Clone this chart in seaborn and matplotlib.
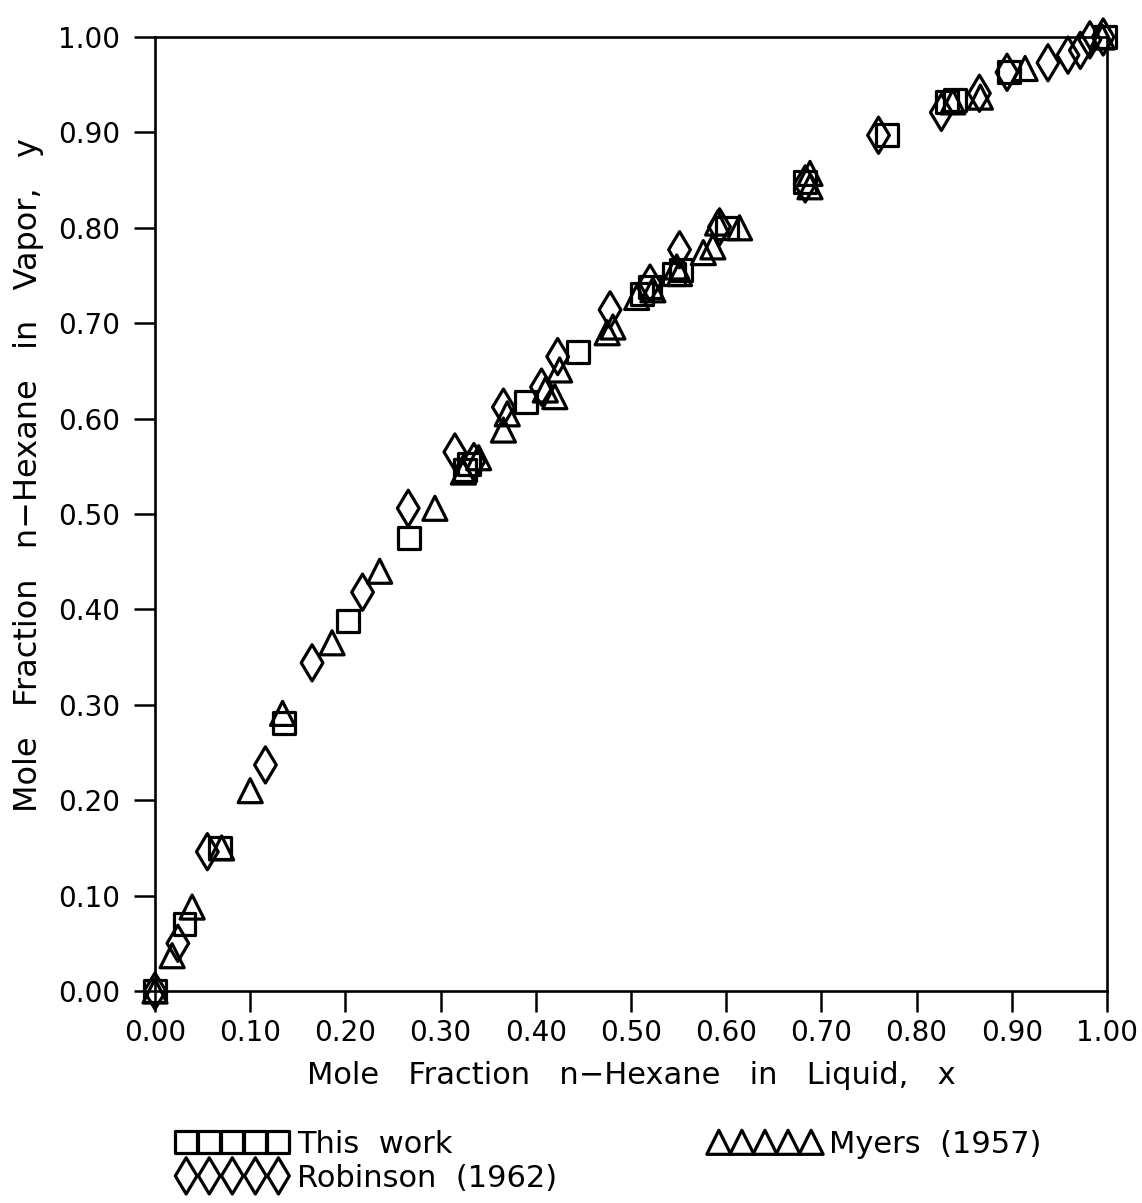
import matplotlib
matplotlib.use("Agg")
import matplotlib.pyplot as plt
import seaborn as sns
import pandas as pd

# ---- data ----
this_work_x = [0.0, 0.031, 0.068, 0.136, 0.203, 0.267, 0.326, 0.330, 0.390, 0.444,
               0.512, 0.520, 0.545, 0.553, 0.601, 0.683, 0.769, 0.832, 0.840, 0.897, 0.998]
this_work_y = [0.0, 0.070, 0.150, 0.281, 0.388, 0.475, 0.546, 0.552, 0.617, 0.670,
               0.731, 0.738, 0.752, 0.756, 0.800, 0.848, 0.897, 0.932, 0.934, 0.963, 1.0]

robinson_x = [0.0, 0.024, 0.055, 0.116, 0.165, 0.218, 0.266, 0.315, 0.335, 0.366,
              0.406, 0.423, 0.478, 0.520, 0.551, 0.593, 0.683, 0.760, 0.826, 0.866,
              0.895, 0.938, 0.959, 0.972, 0.982, 0.996]
robinson_y = [0.0, 0.050, 0.146, 0.237, 0.344, 0.418, 0.506, 0.565, 0.555, 0.612,
              0.633, 0.665, 0.714, 0.742, 0.777, 0.801, 0.846, 0.897, 0.921, 0.941,
              0.963, 0.973, 0.981, 0.986, 0.997, 1.0]

myers_x = [0.0, 0.018, 0.039, 0.070, 0.100, 0.134, 0.186, 0.236, 0.294, 0.324,
           0.340, 0.366, 0.370, 0.410, 0.420, 0.425, 0.475, 0.481, 0.506, 0.523,
           0.548, 0.551, 0.576, 0.586, 0.591, 0.614, 0.688, 0.688, 0.838, 0.867,
           0.914, 0.995]
myers_y = [0.0, 0.037, 0.088, 0.150, 0.210, 0.291, 0.365, 0.440, 0.506, 0.544,
           0.559, 0.588, 0.605, 0.630, 0.623, 0.651, 0.690, 0.696, 0.727, 0.735,
           0.759, 0.752, 0.774, 0.780, 0.805, 0.800, 0.857, 0.843, 0.932, 0.937,
           0.967, 1.0]

labels = ["This  work", "Robinson  (1962)", "Myers  (1957)"]
tick_vals = [round(0.1 * i, 2) for i in range(11)]
tick_labels = [f"{v:.2f}" for v in tick_vals]

# ---- figure ----
sns.set_theme(style="ticks")
plt.rcParams['font.family'] = ['DejaVu Sans']
plt.rcParams['text.color'] = 'black'
plt.rcParams['axes.labelcolor'] = 'black'

fig = plt.figure(figsize=(11.42, 12.03), dpi=100)
ax = fig.add_axes([155 / 1142, 1 - 991 / 1203, (1107 - 155) / 1142, (991 - 37) / 1203])

df_tw = pd.DataFrame({"x": this_work_x, "y": this_work_y})
df_rb = pd.DataFrame({"x": robinson_x, "y": robinson_y})
df_my = pd.DataFrame({"x": myers_x, "y": myers_y})

common = dict(facecolors="none", edgecolors="black", linewidths=2.3, legend=False, clip_on=False)
sns.scatterplot(data=df_tw, x="x", y="y", marker="s", s=250, ax=ax, label=labels[0], **common)
sns.scatterplot(data=df_rb, x="x", y="y", marker="d", s=340, ax=ax, label=labels[1], **common)
sns.scatterplot(data=df_my, x="x", y="y", marker="^", s=300, ax=ax, label=labels[2], **common)

ax.set_xlim(0, 1)
ax.set_ylim(0, 1)
ax.set_xticks(tick_vals)
ax.set_xticklabels(tick_labels)
ax.set_yticks(tick_vals)
ax.set_yticklabels(tick_labels)
ax.tick_params(axis="both", direction="out", length=15, width=1.8, labelsize=20,
               colors="black", labelcolor="black")
ax.tick_params(axis="y", pad=10)
ax.tick_params(axis="x", pad=5)
for sp in ax.spines.values():
    sp.set_visible(True)
    sp.set_linewidth(1.9)
    sp.set_color("black")

ax.set_xlabel("Mole   Fraction   n\u2212Hexane   in   Liquid,   x", fontsize=22, labelpad=10)
ax.set_ylabel("Mole   Fraction   n\u2212Hexane   in   Vapor,   y", fontsize=23)
ax.yaxis.set_label_coords(-0.117, 0.541)

handles, labs = ax.get_legend_handles_labels()
fig.legend(handles, labs, loc="upper left", bbox_to_anchor=(177 / 1142, 1 - 1130 / 1203),
           ncol=2, frameon=False, scatterpoints=5, scatteryoffsets=[0.5],
           handlelength=3.62, handletextpad=0.3, columnspacing=5.0, labelspacing=0.15,
           borderpad=0, borderaxespad=0, fontsize=22)

fig.savefig("out.png", dpi=100)
